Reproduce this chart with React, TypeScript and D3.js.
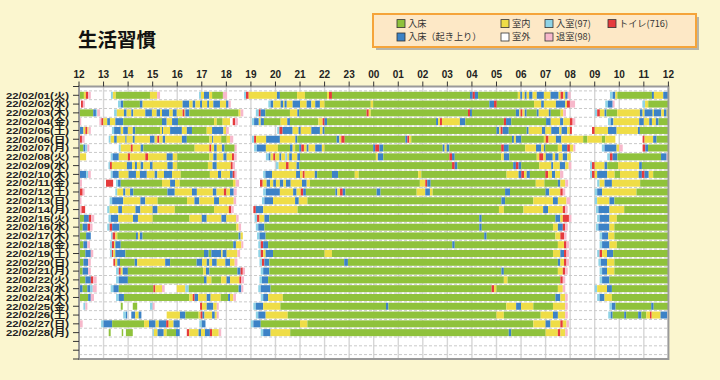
import React from "react";
import * as d3 from "d3";

const TITLE = "生活習慣";
const HOUR_VALUES = [12, 13, 14, 15, 16, 17, 18, 19, 20, 21, 22, 23, 24, 25, 26, 27, 28, 29, 30, 31, 32, 33, 34, 35, 36];
const HOUR_LABELS = ["12", "13", "14", "15", "16", "17", "18", "19", "20", "21", "22", "23", "00", "01", "02", "03", "04", "05", "06", "07", "08", "09", "10", "11", "12"];
const DATES = [
  "22/02/01(火)", "22/02/02(水)", "22/02/03(木)", "22/02/04(金)", "22/02/05(土)", "22/02/06(日)", "22/02/07(月)",
  "22/02/08(火)", "22/02/09(水)", "22/02/10(木)", "22/02/11(金)", "22/02/12(土)", "22/02/13(日)", "22/02/14(月)",
  "22/02/15(火)", "22/02/16(水)", "22/02/17(木)", "22/02/18(金)", "22/02/19(土)", "22/02/20(日)", "22/02/21(月)",
  "22/02/22(火)", "22/02/23(水)", "22/02/24(木)", "22/02/25(金)", "22/02/26(土)", "22/02/27(日)", "22/02/28(月)",
];
const ROW_SLOTS = 31;

// state codes: g 入床, b 入床（起き上り）, y 室内, w 室外, c 入室, p 退室, r トイレ
const STATE_CODES = ["g", "b", "y", "w", "c", "p", "r"];
const STATE_COLORS = ["#8fc23b", "#3c82c6", "#efdd47", "#ffffff", "#8fd3e6", "#f7b8cb", "#e53b3c"];
const LEGEND_LABELS = ["入床", "入床（起き上り）", "室内", "室外", "入室(97)", "退室(98)", "トイレ(716)"];
const LEGEND_CODES = ["g", "b", "y", "w", "c", "p", "r"];

// each token: start hour (12..36 scale) + state; a segment runs to the next token
const day01 = "12.04g 12.2y 12.28r 12.37p 12.48w 13.3c 13.38y 13.5g 14.89y 15.18p 15.3w 16.89c 16.97y 17.09b 17.3y 17.42g 17.86p 18.03w 18.72c 18.8r 18.91y 20.06b 20.18g 20.88y 21.2g 22.1y 22.18r 22.3g 27.92b 28.03r 28.12b 28.25g 29.87y 29.97b 30.05y 30.15b 30.23y 30.33b 30.47y 30.64b 30.93y 31.2b 31.53y 31.61r 31.72y 31.8b 31.9p 32.02w 33.62c 33.73b 33.84y 33.92g 35.33b 35.41y 35.79b 35.98w";
const day02 = "12.08r 12.16p 12.24w 13.59c 13.7b 13.8g 14.48b 14.59y 16.22b 16.49y 16.63b 16.74y 16.93b 17.01y 17.22b 17.3y 17.47b 17.74y 17.99b 18.09p 18.18w 19.71c 19.8b 19.91y 20.21b 20.31y 20.37b 20.46y 20.7b 21.0y 21.27b 21.46y 21.62b 21.81y 22.0g 23.88y 23.98g 28.71b 28.9r 29.01g 30.53y 30.82b 30.93y 31.42b 31.8y 31.87r 31.99p 32.2w 33.43c 33.54b 33.73p 33.81w 34.94c 35.05y 35.18g 36w";
const day03 = "12.04g 12.58b 12.69c 12.74p 12.86w 13.43c 13.54y 13.83b 13.94y 14.13b 14.21y 14.7b 14.97y 15.16b 15.3y 15.38b 15.68y 15.82b 15.98y 16.22r 16.3y 16.33b 16.49g 18.5y 18.58p 18.69w 19.2c 19.32r 19.4b 19.59g 20.59y 20.89b 20.97g 23.71r 23.8y 23.88g 27.84r 27.92b 28g 29.79b 29.93y 29.98r 30.06y 30.15b 30.23g 30.64b 30.72y 31.13b 31.21g 31.61y 31.72p 31.83w 33.01c 33.1r 33.21y 33.4b 33.48g 33.92y 34.84b 34.95y 35.03b 35.36y 35.41b 35.71y 35.82b 35.93y 36w";
const day04 = "12.04p 12.09w 12.83p 12.91r 12.99y 13.15b 13.26y 13.48b 13.8g 15.38b 15.57y 15.79b 16.03g 17.5y 17.61g 17.85y 18.15w 18.26r 18.36p 18.47w 19.04c 19.13b 19.32y 19.4b 19.53g 20.21y 20.48b 20.59g 21.75y 21.92r 22.0b 22.1g 26.54b 26.62y 26.7r 26.78y 27.51b 27.73g 29.3r 29.39b 29.6g 31.02b 31.21y 31.59b 31.72y 31.99r 32.1p 32.21w 33.54c 33.65b 33.76y 34.81b 35.0y 35.22b 35.33y 35.49b 35.6g 36w";
const day05 = "12.04b 12.18y 12.26r 12.34y 12.39p 12.48w 13.34c 13.43b 13.7y 13.8b 13.99y 14.19b 14.29g 15.3y 15.38b 15.43y 15.71b 16.19y 16.39b 16.6g 17.2y 17.42b 17.88y 17.99p 18.1w 20.07c 20.16r 20.29b 20.7y 20.94b 21.03y 21.46b 21.81y 21.92b 22.0g 29.0b 29.11y 29.17r 29.25b 29.5g 30.23b 30.31y 30.85b 30.99y 31.23b 31.56y 31.65b 31.88y 31.99r 32.07w 32.89r 33.0y 33.54b 33.89y 34.76b 34.84g 36w";
const day06 = "12.04r 12.12p 12.23w 13.21c 13.29y 13.43b 13.54y 13.89b 13.94y 14.19b 14.27y 14.89b 15.08y 15.19r 15.27y 15.41b 15.51y 16.19b 16.39g 17.31y 17.42b 17.47y 17.79g 18.01y 18.15p 18.28w 19.04c 19.13r 19.21y 19.62b 20.18y 20.81b 20.89g 22.49b 22.6y 22.68r 22.82g 25.29b 25.37r 25.45y 25.53g 29.63b 29.71y 29.79b 30.01g 30.93y 31.01r 31.12y 31.42b 31.64y 32.53g 32.7y 33.29g 33.43y 33.84w 34.95r 35.03y 35.38b 35.52g 36w";
const day07 = "12.04g 12.18b 12.26c 12.34p 12.42w 13.62c 13.7y 14.11r 14.19y 14.51b 14.62g 16.71y 17.31r 17.39y 17.5b 17.61y 17.82b 17.93g 18.34p 18.42w 19.13c 19.24b 19.61y 20.1g 20.59b 20.7y 20.8g 20.97b 21.05r 21.16y 21.27b 21.35y 21.62b 21.89y 22.0g 23.98b 24.06r 24.23b 24.39g 26.81b 26.89y 26.97b 27.08g 29.19r 29.3b 29.5g 30.17y 30.61b 30.82y 30.93b 30.99g 31.5y 31.67b 31.88r 31.99y 32.13p 32.21w 33.29c 33.4b 33.89y 34.0p 34.14w 34.95r 35.06b 35.17g 36w";
const day08 = "12.04y 12.29w 13.29c 13.37b 13.62y 13.99r 14.08y 14.7r 14.81y 15.57b 15.82y 16.0g 17.31y 17.47b 17.61y 17.88b 18.01y 18.23r 18.31p 18.42w 19.61c 19.72b 19.8y 19.91r 19.99y 20.16b 20.24y 20.4c 20.48y 20.56b 20.67y 20.89b 21.0g 24.09y 24.17b 24.39g 27.08r 27.19b 27.3g 29.19y 29.3b 29.52g 30.64y 30.74r 30.91y 31.01b 31.29y 31.39b 31.53y 31.7b 31.88y 32.02w 33.51c 33.62r 33.73b 33.92g 35.7b 35.93p 36w";
const day09 = "13.2c 13.26r 13.34y 13.95b 14.16y 14.28b 14.36y 14.51b 14.62y 14.89b 15.0y 15.6b 15.82y 16.0g 17.25y 17.44b 17.61y 18.18r 18.26p 18.35w 20.02c 20.13y 20.43r 20.54y 20.86b 20.97g 27.19r 27.3b 27.41g 29.68b 29.79r 29.9b 30.01g 30.74y 31.23b 31.31y 31.58b 31.8y 31.94p 32.05w 32.81c 32.89r 33.0y 33.4b 33.51g 33.95y 34.81b 34.92g 36w";
const day10 = "12.04b 12.29c 12.37p 12.48w 13.29c 13.37b 13.62y 14.02b 14.32y 14.48b 14.76y 15.08b 15.19y 15.46b 15.79y 16.14g 17.33y 17.66b 17.79y 18.15b 18.26r 18.34p 18.42w 19.5c 19.59b 19.86y 20.84b 21.0y 21.11r 21.19y 21.6b 21.7g 22.3b 22.55g 23.23y 23.39g 25.81y 25.94g 29.41y 29.9b 30.01r 30.12y 30.23b 30.36g 30.99r 31.1y 31.26b 31.39y 31.59p 31.72w 32.81c 32.89r 33.0y 33.1b 33.51y 33.81g 34.03y 34.79b 34.92r 35.03b 35.2y 35.38g 36w";
const day11 = "12.04p 12.12w 13.1r 13.39w 13.51c 13.59b 13.7g 15.38y 15.71b 15.91y 16.1g 18.27y 18.38p 18.52w 19.37r 19.48y 19.64b 19.78y 19.91b 20.02y 20.18b 20.32y 20.43b 20.62y 21.08b 21.27y 21.4g 25.88y 26.1r 26.18b 26.32g 30.6y 30.95g 31.5b 31.6y 31.8p 31.92w 33.1c 33.2y 33.4b 33.7y 34.85g 36w";
const day12 = "12.04r 12.15p 12.23w 13.48c 13.56y 13.8b 13.89y 14.08b 14.21g 15.6b 15.9y 16.6b 16.8y 17.45b 17.6y 17.9r 18.0y 18.15b 18.3p 18.42w 19.5c 19.61b 20.18y 20.72b 20.86y 21.03r 21.13b 21.24g 22.44b 22.52y 22.63r 22.74b 22.85g 24.12b 24.28g 25.75y 26.1b 26.29y 26.4g 29.35b 29.55g 31.0b 31.15y 31.6r 31.7p 31.8w 33.0c 33.1b 33.3y 34.7g 36w";
const day13 = "12.04p 12.1w 13.25c 13.35b 13.8y 14.5b 14.7y 15.2g 16.4y 16.7b 16.9y 17.5b 17.7y 18.3p 18.4w 19.45c 19.55b 19.9y 20.8b 20.95y 21.3g 29.2b 29.35g 30.5y 31.3b 31.5y 31.85p 32.0w 33.0c 33.1y 33.6b 33.8g 36w";
const day14 = "12.04p 12.1r 12.25w 13.15c 13.25y 13.6b 13.75y 14.3b 14.5y 15.0b 15.2y 15.9g 17.5y 18.1r 18.2p 18.3w 19.1r 19.2b 19.5y 20.9g 29.1y 29.3g 30.1y 30.9b 31.1y 31.7r 31.8p 31.9w 33.05c 33.15b 33.6y 34.2g 36w";
const day15 = "12.04g 12.2b 12.4r 12.5p 12.62w 13.2c 13.3b 13.6y 14.2b 14.4y 15.0g 16.5y 17.0b 17.2y 17.8b 18.0y 18.4p 18.5w 19.15c 19.25r 19.35y 19.55b 19.75g 28.3b 28.4g 31.4b 31.6y 31.7r 31.95p 32.05w 33.1c 33.2b 33.6y 33.9g 36w";
const day16 = "12.04g 12.15b 12.35r 12.45p 12.55w 13.15c 13.25r 13.35b 13.65g 18.4y 18.5p 18.6w 19.2c 19.3b 19.55g 28.3b 28.4g 31.3y 31.5b 31.7r 31.8p 31.9w 33.05c 33.15b 33.6y 33.8g 36w";
const day17 = "12.04g 12.29b 12.48w 13.3c 13.37r 13.48y 13.56g 14.32b 14.4y 14.48b 14.59g 18.5b 18.58y 18.67w 19.25c 19.35b 19.6g 28.5b 28.6g 31.4y 31.6r 31.75p 31.85w 33.2c 33.3b 33.55y 33.8g 36w";
const day18 = "12.04g 12.18b 12.34p 12.45w 13.26c 13.34r 13.43y 13.48b 13.7g 18.28b 18.39y 18.61p 18.69w 19.3c 19.4r 19.5b 19.7g 27.2b 27.3g 31.5y 31.75r 31.85p 31.95w 33.2c 33.3b 33.6y 33.9g 36w";
const day19 = "12.04g 12.26b 12.48p 12.58w 13.26c 13.34r 13.4y 13.48b 13.89g 17.09b 17.28g 17.39b 17.79y 17.85b 18.01y 18.45p 18.56w 19.3c 19.4r 19.5y 19.6b 19.9g 22.0y 22.3g 31.3y 31.6b 31.75r 31.85p 31.95w 33.1c 33.2r 33.3y 33.5b 33.75g 36w";
const day20 = "12.04g 12.18b 12.37p 12.48w 13.4r 13.48y 13.56b 13.67g 14.27b 14.37y 15.51b 15.71g 16.79b 17.01y 17.2b 17.31y 17.42b 17.61y 17.96b 18.15y 18.34p 18.45w 19.35c 19.45r 19.55b 19.75g 22.8b 22.95g 31.5b 31.6y 31.75r 31.85p 31.95w 33.15c 33.25b 33.5y 33.8g 36w";
const day21 = "12.04g 12.15b 12.37p 12.48w 13.51c 13.62r 13.7y 13.78b 13.99g 17.06y 17.17b 17.31g 18.45b 18.58r 18.67p 18.76w 19.4c 19.5b 19.75g 29.2b 29.3g 31.5y 31.7r 31.8p 31.9w 33.2c 33.3b 33.5y 33.8g 36w";
const day22 = "12.04g 12.26b 12.48r 12.58p 12.72w 13.51c 13.62b 13.99g 17.09b 17.2y 17.39g 17.79y 18.01b 18.15y 18.53r 18.61p 18.72w 19.35c 19.45b 19.7g 29.3y 29.45g 31.6r 31.7p 31.8w 33.2c 33.3b 33.6g 36w";
const day23 = "12.04b 12.15g 12.34b 12.45c 12.56p 12.72w 13.29c 13.4b 13.62g 15.03r 15.11y 15.38p 15.49w 15.98y 16.33c 16.47g 18.5b 18.61p 18.69w 19.3c 19.4b 19.8g 28.8r 28.9y 29.0g 31.5y 31.7p 31.8w 33.0c 33.1y 33.5b 33.7g 36w";
const day24 = "12.04g 12.37b 12.48p 12.61w 13.51c 13.62b 13.83g 16.49y 16.63r 16.71b 16.85y 17.2b 17.36y 17.77g 18.07b 18.15y 18.28p 18.39w 19.4c 19.5b 19.7y 20.3g 31.4b 31.6y 31.8p 31.9w 33.1c 33.2b 33.4y 33.7g 36w";
const day25 = "12.18c 12.26p 12.34w 13.7g 13.78w 14.19g 14.37w 14.89c 15.0p 15.08w 16.93r 17.01y 17.2b 17.47y 17.61p 17.69w 19.1c 19.2b 19.5y 20.2g 24.5b 24.6g 29.4y 29.8b 30.0y 30.5g 31.3y 31.8p 31.9w 33.6c 33.7b 33.85g 35.3b 35.4g 36w";
const day26 = "13.8c 13.91b 13.96w 14.13b 14.29y 14.43b 14.54w 15.57y 16.11b 16.33g 16.87y 16.95r 17.03b 17.11y 17.42b 17.53y 17.61p 17.69w 19.2c 19.3b 19.6y 20.5g 29.0y 29.3g 30.8y 31.3b 31.5y 31.8p 31.9w 33.55c 33.65b 33.73g 34.2b 34.28g 34.77b 34.9g 35.1y 35.25r 35.32y 35.68b 35.95w";
const day27 = "12.04p 12.15w 12.9c 13.0b 13.35g 14.65y 14.85b 15.12y 15.25b 15.55r 15.65y 15.85b 16.1w 16.9c 17.0b 17.15w 19.0c 19.1b 19.4g 21.0y 21.3g 30.5y 31.0b 31.2y 31.6r 31.7y 31.85p 31.95w";
const day28 = "13.21g 13.29w 13.74g 13.8w 13.91g 14.19w 15.0c 15.05y 15.2b 15.45y 15.57g 15.95b 16.1w 16.39r 16.49y 16.87b 16.97y 17.13b 17.33r 17.42y 17.69p 17.79w 19.4c 19.5b 19.8y 20.6g 29.5b 29.6g 31.0y 31.5r 31.6y 31.8p 31.9w";

const DAY_SERIES = [day01, day02, day03, day04, day05, day06, day07, day08, day09, day10, day11, day12, day13, day14,
  day15, day16, day17, day18, day19, day20, day21, day22, day23, day24, day25, day26, day27, day28];

type Seg = { row: number; start: number; end: number; code: string };

function parseDay(s: string, row: number): Seg[] {
  const toks = s.trim().split(/\s+/).map((t) => ({ t: parseFloat(t), c: t.slice(-1) }));
  const out: Seg[] = [];
  for (let i = 0; i < toks.length - 1; i++) {
    out.push({ row, start: toks[i].t, end: toks[i + 1].t, code: toks[i].c });
  }
  return out;
}

const colorOf = d3.scaleOrdinal<string, string>().domain(STATE_CODES).range(STATE_COLORS);

export default function App() {
  const W = 720, H = 380;
  const left = 79, right = 668.4, top = 86.5, bottom = 359;
  const x = d3.scaleLinear().domain([12, 36]).range([left, right]);
  const y = d3.scaleLinear().domain([0, ROW_SLOTS]).range([top, bottom]);
  const barH = 7;
  const segs = DAY_SERIES.flatMap((s, i) => parseDay(s, i + 1)).filter((d) => d.code !== "w");
  const labelFont = "'Liberation Sans', 'Noto Sans CJK JP', sans-serif";
  const cjk = "'Noto Sans CJK JP', sans-serif";

  const legendCols = [397, 501, 545, 608];
  const legendPos = [[0, 0], [0, 1], [1, 0], [1, 1], [2, 0], [2, 1], [3, 0]];

  return (
    <svg width={W} height={H} style={{ position: "absolute", left: 0, top: 0 }}>
      <rect x={0} y={0} width={W} height={H} fill="#fbf6cf" />
      <text x={78} y={47} fontFamily={cjk} fontWeight="bold" fontSize={19.5} fill="#111">{TITLE}</text>

      {/* legend */}
      <rect x={376} y={17} width={323} height={33} fill="#9a9a9a" opacity={0.7} />
      <rect x={373} y={14} width={323} height={33} fill="#fde8c6" stroke="#f5a43a" strokeWidth={2} />
      {LEGEND_LABELS.map((lab, i) => {
        const [c, r] = legendPos[i];
        const lx = legendCols[c];
        const ly = 23.6 + r * 13.4;
        return (
          <g key={lab}>
            <rect x={lx} y={ly - 4} width={8} height={8} fill={colorOf(LEGEND_CODES[i])} stroke="#333" strokeWidth={0.8} />
            <text x={lx + 11} y={ly + 3.3} fontFamily={cjk} fontSize={9.2} fill="#333">{lab}</text>
          </g>
        );
      })}

      {/* plot area */}
      <rect x={left} y={top} width={right - left} height={bottom - top} fill="#ffffff" />
      {HOUR_VALUES.slice(1, -1).map((h) => (
        <line key={"v" + h} x1={x(h)} x2={x(h)} y1={top} y2={bottom} stroke="#d6d6d6" strokeWidth={1.4} />
      ))}
      {d3.range(0, ROW_SLOTS).map((k) => (
        <line key={"h" + k} x1={left} x2={right} y1={y(k + 0.5)} y2={y(k + 0.5)} stroke="#c9c9c9" strokeWidth={1} strokeDasharray="3,2" />
      ))}
      {segs.map((d, i) => (
        <rect key={i} x={x(d.start)} y={y(d.row) - barH / 2} width={Math.max(0, x(d.end) - x(d.start))} height={barH} fill={colorOf(d.code)} />
      ))}
      <rect x={left} y={top} width={right - left} height={bottom - top} fill="none" stroke="#9a9a9a" strokeWidth={2} />

      {/* top axis */}
      {HOUR_VALUES.map((h, i) => (
        <g key={"t" + i}>
          <line x1={x(h)} x2={x(h)} y1={top - 5} y2={top} stroke="#333" strokeWidth={1} />
          <text x={x(h)} y={78} textAnchor="middle" fontFamily={labelFont} fontWeight="bold" fontSize={10} fill="#222">{HOUR_LABELS[i]}</text>
        </g>
      ))}

      {/* left axis */}
      {d3.range(0, ROW_SLOTS + 1).map((k) => (
        <line key={"l" + k} x1={left - 6} x2={left} y1={y(k)} y2={y(k)} stroke="#333" strokeWidth={1} />
      ))}
      {DATES.map((lab, i) => (
        <text key={lab} x={69} y={y(i + 1) + 3.3} textAnchor="end" fontFamily={labelFont} fontWeight="bold" fontSize={9}
          textLength={63} lengthAdjust="spacingAndGlyphs" fill="#222">{lab}</text>
      ))}
    </svg>
  );
}
